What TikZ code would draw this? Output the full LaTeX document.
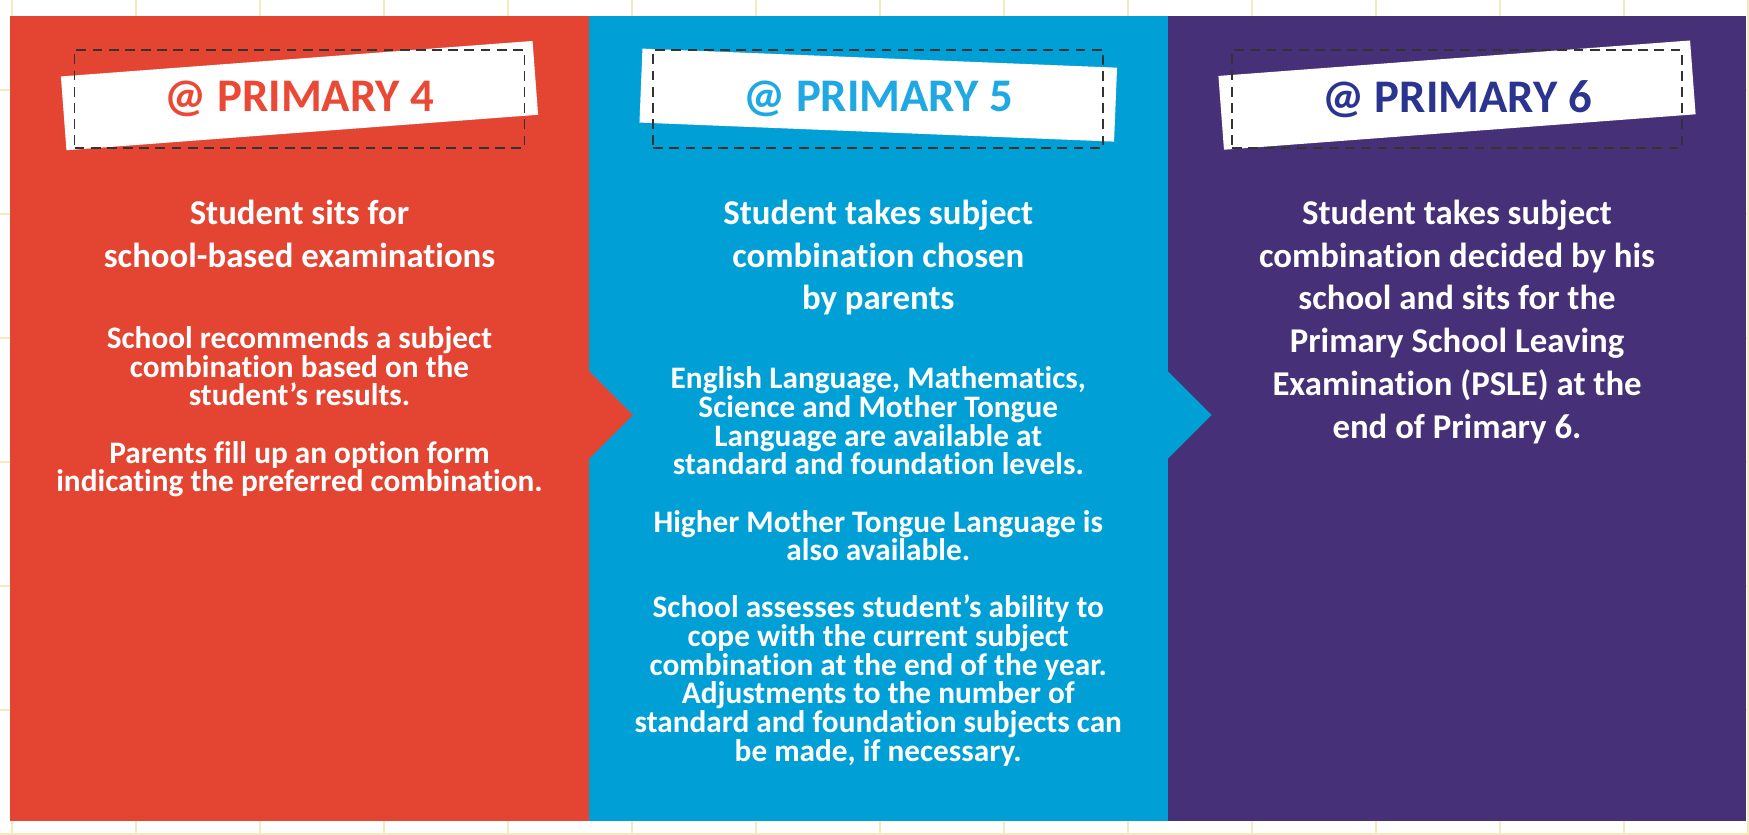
\documentclass[tikz,border=0pt]{standalone}
\usepackage{fontspec}
\setmainfont{Carlito}[Ligatures=NoCommon]
\usepackage{xcolor}
\usepackage{tikz}
\usetikzlibrary{positioning}

\definecolor{pfour}{HTML}{E44532}
\definecolor{pfive}{HTML}{00A0D7}
\definecolor{psix}{HTML}{463077}
\definecolor{tfour}{HTML}{EA4A35}
\definecolor{tfive}{HTML}{1FA8E1}
\definecolor{tsix}{HTML}{2B3590}
\definecolor{gridcol}{HTML}{F7E9BE}
\setlength{\lineskiplimit}{-5pt}

\begin{document}
\begin{tikzpicture}[panel/.style={rectangle, inner sep=0pt, line width=0.5pt, minimum width=5.77cm, minimum height=8.03cm}]
        \tikzstyle{paper} = [fill=white, inner sep=0pt, minimum width=4.73cm, minimum height=0.74cm]
        \tikzstyle{banner} = [draw=black!80, line width=0.55pt, dash pattern=on 2.8pt off 1.8pt, minimum width=4.5cm, minimum height=0.98cm, inner sep=0pt, font=\fontsize{13.3}{15}\selectfont\bfseries]
        \tikzstyle{head} = [text=white, align=center, inner sep=0pt, font=\fontsize{9.9}{12.2}\selectfont\bfseries]
        \tikzstyle{body} = [text=white, align=center, inner sep=0pt, font=\fontsize{8.9}{8.15}\selectfont\bfseries]
        \useasboundingbox (0,0) rectangle (17.49,8.34);

        % faint grid behind the panels
        \foreach \i in {0,...,14} \draw[gridcol, line width=0.45pt] (0.12+1.24*\i,0) -- (0.12+1.24*\i,8.34);
        \foreach \i in {0,...,6} \draw[gridcol, line width=0.45pt] (0,1.24*\i) -- (17.49,1.24*\i);

        \node[panel, fill=pfour, draw=pfour] (r4) at (2.995,4.155) {};
        \node[panel, fill=pfive, draw=pfive, right=0cm of r4] (r5) {};
        \node[panel, fill=psix, draw=psix, right=0cm of r5] (r6) {};

        \fill[pfour] ([yshift=0.475cm]r4.east) -- ([xshift=0.44cm,yshift=0.035cm]r4.east) -- ([yshift=-0.405cm]r4.east) -- cycle;
        \fill[pfive] ([yshift=0.475cm]r5.east) -- ([xshift=0.44cm,yshift=0.035cm]r5.east) -- ([yshift=-0.405cm]r5.east) -- cycle;

        % banners
        \coordinate[below=0.83cm of r4.north] (c4);
        \coordinate[below=0.83cm of r5.north] (c5);
        \coordinate[below=0.83cm of r6.north] (c6);
        \node[paper, rotate=4.3] (w4) at ([yshift=0.035cm]c4) {};
        \node[paper, rotate=-2.3, minimum width=4.75cm] (w5) at ([yshift=0.04cm]c5) {};
        \node[paper, rotate=4.3] (w6) at ([yshift=0.04cm]c6) {};
        \node[banner, text=tfour] (b4) at (c4) {@ PRIMARY 4};
        \node[banner, text=tfive] (b5) at (c5) {@ PRIMARY 5};
        \node[banner, text=tsix] (b6) at (c6) {@ PRIMARY 6};

        \node[head, below=0.5cm of b4] (h4) {Student sits for\\school-based examinations};
        \node[body, below=0.58cm of h4] (t4) {School recommends a subject\\combination based on the\\student’s results.\\[8.15pt]Parents fill up an option form\\indicating the preferred combination.};

        \node[head, below=0.5cm of b5] (h5) {Student takes subject\\combination chosen\\by parents};
        \node[body, below=0.5cm of h5] (t5) {English Language, Mathematics,\\Science and Mother Tongue\\Language are available at\\standard and foundation levels.\\[8.15pt]Higher Mother Tongue Language is\\also available.\\[8.15pt]School assesses student’s ability to\\cope with the current subject\\combination at the end of the year.\\Adjustments to the number of\\standard and foundation subjects can\\be made, if necessary.};

        \node[head, below=0.5cm of b6] (h6) {Student takes subject\\combination decided by his\\school and sits for the\\Primary School Leaving\\Examination (PSLE) at the\\end of Primary 6.};
\end{tikzpicture}
\end{document}
